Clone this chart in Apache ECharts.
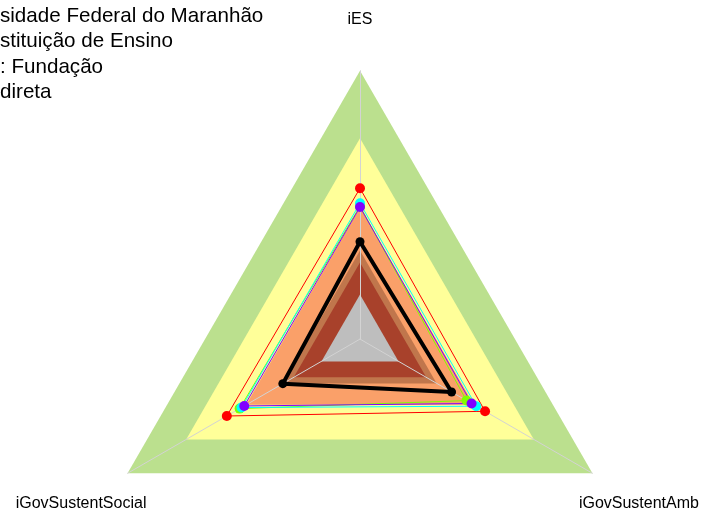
<!DOCTYPE html>
<html>
<head>
<meta charset="utf-8">
<script src="https://cdn.jsdelivr.net/npm/echarts@6/dist/echarts.min.js"></script>
<style>
  html, body { margin: 0; padding: 0; background: #fff; }
  #chart { width: 702px; height: 513px; }
</style>
</head>
<body>
<div id="chart"></div>
<script>
// 雷达图：三个指标（逆时针：上、左下、右下）
const indicatorNames = ['iES', 'iGovSustentSocial', 'iGovSustentAmb'];

// 背景分级带（半径比例，外到内）
const bandLevels = [1.0, 0.748, 0.49, 0.33, 0.285, 0.166];
const bandColors = ['#BBE08E', '#FFFF99', '#FAA069', '#C0764C', '#A8412B', '#BEBEBE'];

// 各机构数值（顺序同 indicatorNames）
const seriesNames = ['A', 'B', 'C', 'D', 'Universidade Federal do Maranhão'];
const seriesValues = [
    [0.562, 0.573, 0.538],
    [0.495, 0.518, 0.458],
    [0.506, 0.510, 0.500],
    [0.492, 0.498, 0.480],
    [0.363, 0.332, 0.394]
];
const seriesColors = ['#FF0000', '#80FF00', '#00FFFF', '#8000FF', '#000000'];

// 左上角说明文字（左侧被裁切）
const legendLines = [
    'sidade Federal do Maranhão',
    'stituição de Ensino',
    ': Fundação',
    'direta'
];

document.addEventListener('DOMContentLoaded', () => {
    const chart = echarts.init(document.getElementById('chart'));

    const cx = 360, cy = 339.1, R = 268.4;

    // 背景色带
    const bandSeries = bandLevels.map((lv, i) => ({
        type: 'radar',
        z: 1,
        silent: true,
        symbol: 'none',
        lineStyle: { width: 0, opacity: 0 },
        areaStyle: { color: bandColors[i], opacity: 1 },
        data: [{ value: indicatorNames.map(() => lv) }]
    }));

    // 数据折线
    const dataSeries = seriesValues.map((vals, i) => {
        const isMain = i === seriesValues.length - 1;
        return {
            type: 'radar',
            z: 5,
            name: seriesNames[i],
            symbol: 'circle',
            symbolSize: isMain ? 9 : 10,
            lineStyle: { color: seriesColors[i], width: isMain ? 4 : 1 },
            itemStyle: { color: seriesColors[i] },
            data: [{ value: vals }]
        };
    });

    // 指标名称（放在 1.2 倍半径处，居中）
    const nameTexts = indicatorNames.map((name, i) => {
        const ang = Math.PI / 2 + i * 2 * Math.PI / indicatorNames.length;
        return {
            type: 'text',
            x: cx + 1.2 * R * Math.cos(ang),
            y: cy - 1.2 * R * Math.sin(ang) + 3,
            style: {
                text: name,
                fill: '#000',
                font: '16px "Liberation Sans", Arial, sans-serif',
                textAlign: 'center',
                textVerticalAlign: 'middle'
            }
        };
    });

    const legendTexts = legendLines.map((t, i) => ({
        type: 'text',
        x: 0,
        y: 16.5 + i * 25.2,
        style: {
            text: t,
            fill: '#000',
            font: '20.6px "Liberation Sans", Arial, sans-serif',
            textAlign: 'left',
            textVerticalAlign: 'middle'
        }
    }));

    const option = {
        animation: false,
        radar: {
            z: 3,
            center: [cx, cy],
            radius: R,
            startAngle: 90,
            shape: 'polygon',
            splitNumber: 1,
            indicator: indicatorNames.map(n => ({ name: n, min: 0, max: 1 })),
            axisName: { show: false },
            axisLine: { lineStyle: { color: '#D3D3D3', width: 1 } },
            splitLine: { show: false },
            splitArea: { show: false }
        },
        graphic: nameTexts.concat(legendTexts),
        series: bandSeries.concat(dataSeries)
    };

    chart.setOption(option);
});
</script>
</body>
</html>
